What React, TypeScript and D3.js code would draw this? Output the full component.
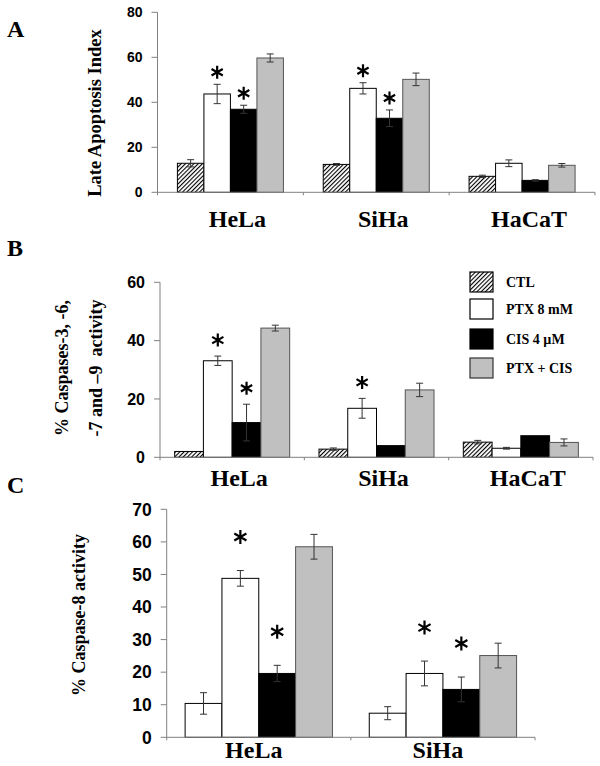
import React from 'react';
import * as d3 from 'd3';

// treatments, in bar order
const seriesNames = ['CTL', 'PTX 8 mM', 'CIS 4 µM', 'PTX + CIS'];
const cellLinesAB = ['HeLa', 'SiHa', 'HaCaT'];
const cellLinesC = ['HeLa', 'SiHa'];

// A - late apoptosis index
const lateApoptosis = [
  [12.9, 43.7, 36.9, 59.7],
  [12.4, 46.2, 32.9, 50.2],
  [7.1, 12.9, 5.3, 12.0],
];
const lateApoptosisErr = [
  [1.6, 4.3, 1.8, 1.8],
  [0.4, 2.5, 3.7, 2.8],
  [0.5, 1.5, 0.3, 0.8],
];
const lateApoptosisSig = [
  [0, 1, 1, 0],
  [0, 1, 1, 0],
  [0, 0, 0, 0],
];
const ticksA = [0, 20, 40, 60, 80];

// B - caspases 3, 6, 7, 9
const caspase3 = [
  [2.0, 33.1, 11.9, 44.3],
  [2.8, 16.8, 4.0, 23.1],
  [5.2, 3.1, 7.4, 5.1],
];
const caspase3Err = [
  [0, 1.6, 6.3, 1.0],
  [0.4, 3.4, 0, 2.3],
  [0.6, 0.3, 0, 1.2],
];
const caspase3Sig = [
  [0, 1, 1, 0],
  [0, 1, 0, 0],
  [0, 0, 0, 0],
];
const ticksB = [0, 20, 40, 60];

// C - caspase 8
const caspase8 = [
  [10.4, 48.8, 19.6, 58.5],
  [7.4, 19.6, 14.7, 25.1],
];
const caspase8Err = [
  [3.3, 2.4, 2.5, 3.8],
  [2.0, 3.8, 3.8, 3.8],
];
const caspase8Sig = [
  [0, 1, 1, 0],
  [0, 1, 1, 0],
];
const ticksC = [0, 10, 20, 30, 40, 50, 60, 70];

const SERIF = '"Liberation Serif", "Times New Roman", serif';
const SANS = '"Liberation Sans", Arial, sans-serif';
const AXIS = '#808080';

function fillFor(i, ctlHatch) {
  if (i === 0) return ctlHatch ? 'url(#hatch)' : '#fff';
  if (i === 1) return '#fff';
  if (i === 2) return '#000';
  return '#c0c0c0';
}

function Panel({ groups, values, errs, sig, ticks, left, right, bottom, top, fill, tickSize, starOffset, starR, ctlHatch, labelY, labelDx }) {
  const y = d3.scaleLinear().domain([0, ticks[ticks.length - 1]]).range([bottom, top]);
  const x0 = d3.scaleBand().domain(groups).range([left, right]);
  const pad = (seriesNames.length / fill - seriesNames.length) / 2;
  const x1 = d3.scaleBand().domain(seriesNames).range([0, x0.bandwidth()]).paddingOuter(pad);
  const bw = x1.bandwidth();
  const star = d3.symbol(d3.symbolAsterisk, (starR / 0.59436) ** 2 - 0.75)();
  const boundaries = d3.range(groups.length + 1).map(i => left + i * x0.step());

  return (
    <g>
      {groups.map((g, gi) => (
        <g key={g} transform={`translate(${x0(g)},0)`}>
          {seriesNames.map((s, si) => {
            const v = values[gi][si];
            const e = errs[gi][si];
            const bx = x1(s);
            const cx = bx + bw / 2;
            return (
              <g key={s}>
                <rect x={bx} y={y(v)} width={bw} height={bottom - y(v)}
                  fill={fillFor(si, ctlHatch)}
                  stroke={si === 3 ? '#555' : '#000'} strokeWidth={1} />
                {e > 0 && (
                  <g stroke="#333" strokeWidth={1}>
                    <line x1={cx} x2={cx} y1={y(v - e)} y2={y(v + e)} />
                    <line x1={cx - 3.5} x2={cx + 3.5} y1={y(v + e)} y2={y(v + e)} />
                    <line x1={cx - 3.5} x2={cx + 3.5} y1={y(v - e)} y2={y(v - e)} />
                  </g>
                )}
                {sig[gi][si] ? (
                  <path d={star} transform={`translate(${cx},${y(v + e) - starOffset})`}
                    fill="none" stroke="#000" strokeWidth={2.2} />
                ) : null}
              </g>
            );
          })}
          <text x={x0.bandwidth() / 2 + labelDx} y={labelY} textAnchor="middle"
            fontFamily={SERIF} fontWeight="bold" fontSize={24}>{g}</text>
        </g>
      ))}
      {/* axes */}
      <line x1={left} x2={right} y1={bottom} y2={bottom} stroke={AXIS} />
      {boundaries.map((b, i) => (
        <line key={i} x1={b} x2={b} y1={bottom} y2={bottom + 3} stroke={AXIS} />
      ))}
      <line x1={left} x2={left} y1={top} y2={bottom} stroke={AXIS} />
      {ticks.map(t => (
        <g key={t}>
          <line x1={left - 6} x2={left} y1={y(t)} y2={y(t)} stroke={AXIS} />
          <text x={left - 15} y={y(t)} dy="0.36em" textAnchor="end"
            fontFamily={SANS} fontWeight="bold" fontSize={tickSize}>{t}</text>
        </g>
      ))}
    </g>
  );
}

function YLabel({ x, y, lines, size }) {
  return (
    <g>
      {lines.map((l, i) => (
        <text key={i} transform={`translate(${x[i]},${y}) rotate(-90)`} textAnchor="middle"
          fontFamily={SERIF} fontWeight="bold" fontSize={size} style={{ whiteSpace: 'pre' }}>{l}</text>
      ))}
    </g>
  );
}

export default function App() {
  const legendTop = [272, 299, 329, 358];
  return (
    <svg width={600} height={766} style={{ position: 'absolute', left: 0, top: 0, background: '#fff' }}>
      <defs>
        <pattern id="hatch" patternUnits="userSpaceOnUse" width={3} height={3} patternTransform="rotate(45)">
          <rect width={3} height={3} fill="#fff" />
          <line x1={0} y1={0} x2={0} y2={3} stroke="#000" strokeWidth={2.2} />
        </pattern>
      </defs>
      <rect width={600} height={766} fill="#fff" />

      {/* A */}
      <text x={7} y={36.5} fontFamily={SERIF} fontWeight="bold" fontSize={24}>A</text>
      <YLabel x={[101]} y={113} lines={['Late Apoptosis Index']} size={18.5} />
      <Panel groups={cellLinesAB} values={lateApoptosis} errs={lateApoptosisErr} sig={lateApoptosisSig}
        ticks={ticksA} left={157.5} right={595} bottom={192.3} top={12.3} fill={0.727}
        tickSize={14} starOffset={12} starR={6.5} ctlHatch labelY={227} labelDx={7} />

      {/* B */}
      <text x={7} y={256} fontFamily={SERIF} fontWeight="bold" fontSize={24}>B</text>
      <YLabel x={[68, 102]} y={368} lines={['% Caspases-3, -6,', '-7 and \u20139  activity']} size={18} />
      <Panel groups={cellLinesAB} values={caspase3} errs={caspase3Err} sig={caspase3Sig}
        ticks={ticksB} left={160} right={593} bottom={457.3} top={282.3} fill={0.797}
        tickSize={16} starOffset={16} starR={6.5} ctlHatch labelY={486} labelDx={7} />
      {seriesNames.map((s, i) => (
        <g key={s}>
          <rect x={470} y={legendTop[i]} width={23} height={20} fill={fillFor(i, true)}
            stroke={i === 3 ? '#333' : '#000'} strokeWidth={1.2} />
          <text x={506} y={legendTop[i] + 15} fontFamily={SERIF} fontWeight="bold" fontSize={14}>{s}</text>
        </g>
      ))}

      {/* C */}
      <text x={7} y={493} fontFamily={SERIF} fontWeight="bold" fontSize={24}>C</text>
      <YLabel x={[85]} y={615} lines={['% Caspase-8 activity']} size={18} />
      <Panel groups={cellLinesC} values={caspase8} errs={caspase8Err} sig={caspase8Sig}
        ticks={ticksC} left={166.7} right={535} bottom={737.3} top={509.3} fill={0.8}
        tickSize={17.5} starOffset={33.5} starR={7} ctlHatch={false} labelY={758} labelDx={-5} />
    </svg>
  );
}
